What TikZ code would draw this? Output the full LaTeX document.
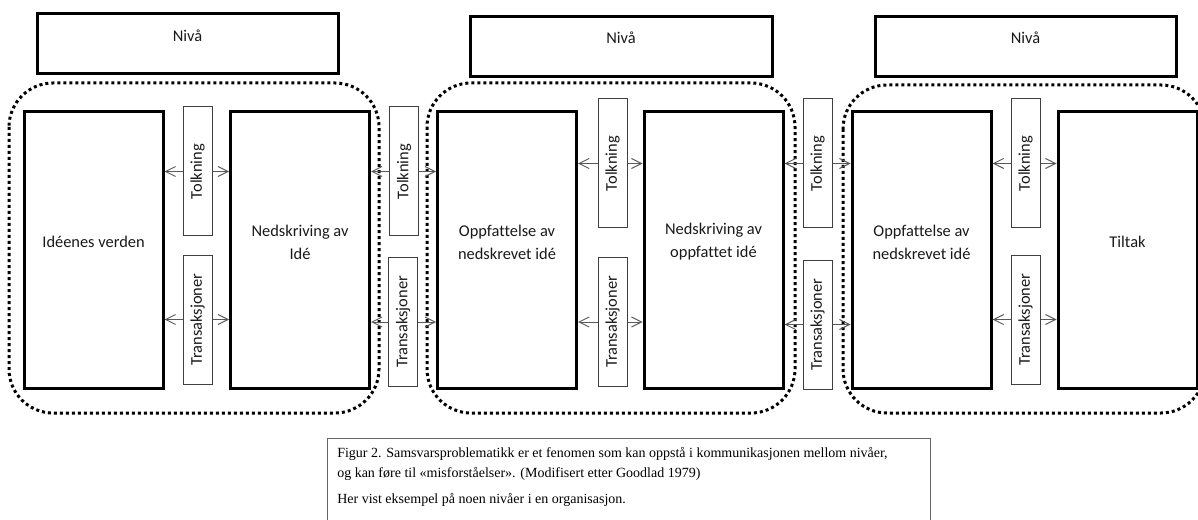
\documentclass[tikz,border=0pt]{standalone}
\usepackage{fontspec}
\setmainfont{Carlito}[Ligatures=CommonOff]
\newfontfamily\capfont{Liberation Serif}[Ligatures=CommonOff]
\usetikzlibrary{arrows.meta}
\begin{document}
\begin{tikzpicture}[x=0.75pt,y=-0.75pt,
  bigbox/.style={draw=black,line width=2.25pt,minimum width=104.25pt,minimum height=207pt,inner sep=0pt},
  nivabox/.style={draw=black,line width=2.25pt,minimum height=45pt,inner sep=0pt},
  smallbox/.style={draw=black!75,line width=0.75pt,minimum width=21.75pt,minimum height=96.75pt,inner sep=0pt,font=\fontsize{12.3}{14}\selectfont,text=black!90},
  boxtext/.style={align=center,inner sep=0pt,font=\fontsize{12.3}{17.25}\selectfont,text=black!90},
  dotbox/.style={draw=black,line width=2.25pt,dash pattern=on 2.25pt off 2.25pt,rounded corners=33pt},
  arr/.style={draw=black!65,line width=0.75pt,-{Straight Barb[length=7.5pt,width=7.5pt,line width=0.75pt]}},
  capbox/.style={draw=black!60,line width=0.75pt}
]
\useasboundingbox (0,0) rectangle (1198,520);
\clip (0,0) rectangle (1198,520);

% Nivå boxes
\node[nivabox,minimum width=225.75pt] (N1) at (187.5,44) {};
\node[nivabox,minimum width=226.5pt] (N2) at (621,47) {};
\node[nivabox,minimum width=225.75pt] (N3) at (1025.5,47) {};
\node[boxtext] (N1t) at (187.5,36) {Nivå};
\node[boxtext] (N2t) at (621,38) {Nivå};
\node[boxtext] (N3t) at (1025.5,38) {Nivå};

% dotted groups
\draw[dotbox] (9,83) rectangle (379,413);
\draw[dotbox] (427,83) rectangle (795,413);
\draw[dotbox] (843,85) rectangle (1205,413);

% big boxes
\node[bigbox] (B1) at (93.5,250) {};
\node[bigbox] (B2) at (300,250) {};
\node[bigbox] (B3) at (507,250) {};
\node[bigbox] (B4) at (713.5,250) {};
\node[bigbox] (B5) at (921.5,250) {};
\node[bigbox] (B6) at (1127.5,250) {};
\node[boxtext] (B1t) at (93.5,242) {Idéenes verden};
\node[boxtext] (B2t) at (300,242) {Nedskriving av\\Idé};
\node[boxtext] (B3t) at (507,242) {Oppfattelse av\\nedskrevet idé};
\node[boxtext] (B4t) at (713.5,242) {Nedskriving av\\oppfattet idé};
\node[boxtext] (B5t) at (921.5,242) {Oppfattelse av\\nedskrevet idé};
\node[boxtext] (B6t) at (1127.5,242) {Tiltak};

% small boxes
\node[smallbox] (T1) at (197.5,171.5) {\rotatebox{90}{Tolkning}};
\node[smallbox] (R1) at (197.5,319.5) {\rotatebox{90}{Transaksjoner}};
\node[smallbox] (T2) at (404,171.5) {\rotatebox{90}{Tolkning}};
\node[smallbox] (R2) at (403,322) {\rotatebox{90}{Transaksjoner}};
\node[smallbox] (T3) at (612.5,163.5) {\rotatebox{90}{Tolkning}};
\node[smallbox] (R3) at (612.5,322) {\rotatebox{90}{Transaksjoner}};
\node[smallbox] (T4) at (817.5,163.5) {\rotatebox{90}{Tolkning}};
\node[smallbox] (R4) at (817.5,324.5) {\rotatebox{90}{Transaksjoner}};
\node[smallbox] (T5) at (1025.5,163.5) {\rotatebox{90}{Tolkning}};
\node[smallbox] (R5) at (1025.5,319.5) {\rotatebox{90}{Transaksjoner}};

% arrows
\foreach \s/\l/\r in {T1/B1/B2,R1/B1/B2,T2/B2/B3,R2/B2/B3,T3/B3/B4,R3/B3/B4,T4/B4/B5,R4/B4/B5,T5/B5/B6,R5/B5/B6}{
  \draw[arr] (\s.west) -- (\s.west -| \l.east);
  \draw[arr] (\s.east) -- (\s.east -| \r.west);
}

% caption
\draw[capbox] (327,438) rectangle (930,530);
\node[anchor=north west,align=left,inner sep=0pt,font=\capfont\fontsize{10.5}{15}\selectfont] (cap) at (337,447)
 {Figur 2. Samsvarsproblematikk er et fenomen som kan oppstå i kommunikasjonen mellom nivåer,\\
  og kan føre til «misforståelser». (Modifisert etter Goodlad 1979)\\[4.5pt]
  Her vist eksempel på noen nivåer i en organisasjon.};
\end{tikzpicture}
\end{document}
